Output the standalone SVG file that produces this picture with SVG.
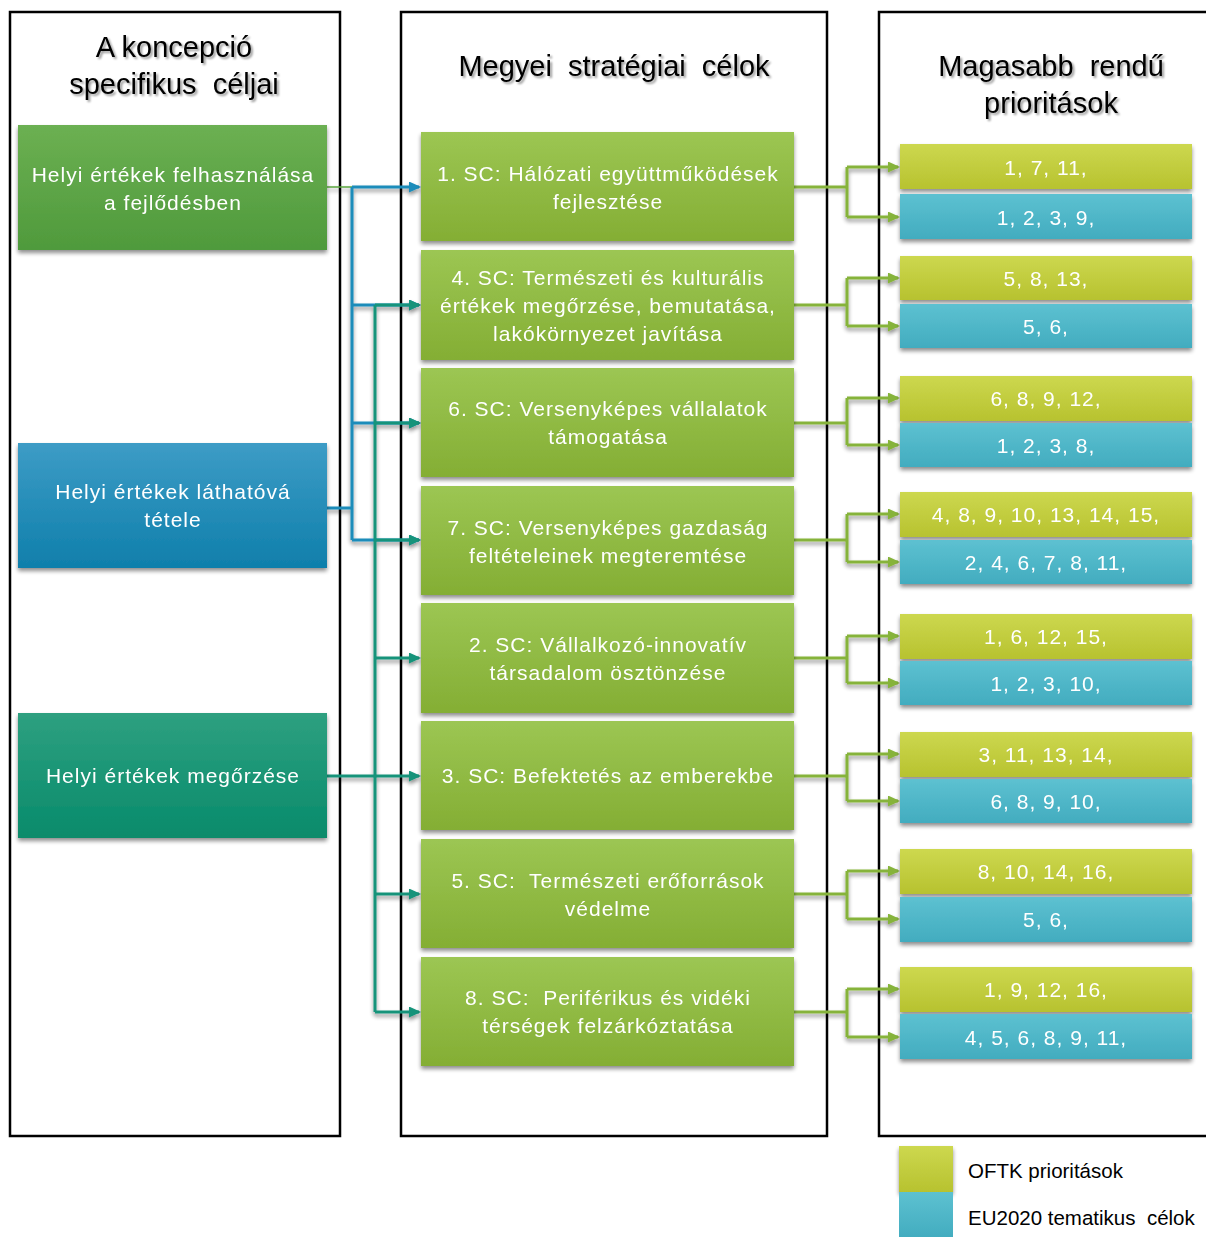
<svg xmlns="http://www.w3.org/2000/svg" width="1206" height="1237" viewBox="0 0 1206 1237">
<defs>
<linearGradient id="gLG" x1="0" y1="0" x2="0" y2="1"><stop offset="0" stop-color="#6cb052"/><stop offset="1" stop-color="#4f9a3c"/></linearGradient>
<linearGradient id="gLB" x1="0" y1="0" x2="0" y2="1"><stop offset="0" stop-color="#3d9cc6"/><stop offset="1" stop-color="#0f7fab"/></linearGradient>
<linearGradient id="gLT" x1="0" y1="0" x2="0" y2="1"><stop offset="0" stop-color="#2ea080"/><stop offset="1" stop-color="#088b6b"/></linearGradient>
<linearGradient id="gM" x1="0" y1="0" x2="0" y2="1"><stop offset="0" stop-color="#9cc653"/><stop offset="1" stop-color="#84ae34"/></linearGradient>
<linearGradient id="gY" x1="0" y1="0" x2="0" y2="1"><stop offset="0" stop-color="#cdd84f"/><stop offset="1" stop-color="#b7c22f"/></linearGradient>
<linearGradient id="gC" x1="0" y1="0" x2="0" y2="1"><stop offset="0" stop-color="#5dc1d1"/><stop offset="1" stop-color="#42acbf"/></linearGradient>
<filter id="sh" x="-10%" y="-10%" width="120%" height="130%"><feGaussianBlur in="SourceAlpha" stdDeviation="2"/><feOffset dx="0" dy="3" result="b"/><feComponentTransfer><feFuncA type="linear" slope="0.45"/></feComponentTransfer><feMerge><feMergeNode/><feMergeNode in="SourceGraphic"/></feMerge></filter>
<filter id="tsh" x="-5%" y="-20%" width="110%" height="150%"><feGaussianBlur in="SourceAlpha" stdDeviation="1"/><feOffset dx="1.5" dy="2"/><feComponentTransfer><feFuncA type="linear" slope="0.4"/></feComponentTransfer><feMerge><feMergeNode/><feMergeNode in="SourceGraphic"/></feMerge></filter>
<marker id="aB" viewBox="0 0 12 11" refX="10" refY="5.5" markerWidth="12" markerHeight="11" markerUnits="userSpaceOnUse" orient="auto"><path d="M0,0 L12,5.5 L0,11 z" fill="#1a8cba"/></marker>
<marker id="aT" viewBox="0 0 12 11" refX="10" refY="5.5" markerWidth="12" markerHeight="11" markerUnits="userSpaceOnUse" orient="auto"><path d="M0,0 L12,5.5 L0,11 z" fill="#13937a"/></marker>
<marker id="aG" viewBox="0 0 12 11" refX="10" refY="5.5" markerWidth="12" markerHeight="11" markerUnits="userSpaceOnUse" orient="auto"><path d="M0,0 L12,5.5 L0,11 z" fill="#86b33a"/></marker>
</defs>
<style>
.frame{fill:none;stroke:#000;stroke-width:2.5}
.title{font-family:"Liberation Sans",Arial,sans-serif;font-size:29px;fill:#000;text-anchor:middle;white-space:pre}
.nt{font-family:"Liberation Sans",Arial,sans-serif;font-size:21px;letter-spacing:1px;fill:#fff;text-anchor:middle;white-space:pre}
.rt{font-family:"Liberation Sans",Arial,sans-serif;font-size:21px;letter-spacing:1px;fill:#fff;text-anchor:middle}
.lg{font-family:"Liberation Sans",Arial,sans-serif;font-size:20.5px;fill:#000;white-space:pre}
.cb{fill:none;stroke:#1a8cba;stroke-width:3}
.ct{fill:none;stroke:#13937a;stroke-width:3}
.cg{fill:none;stroke:#86b33a;stroke-width:3}
</style>
<rect width="1206" height="1237" fill="#fff"/>
<g id="frames">
<rect class="frame" x="10" y="12" width="330" height="1124"/>
<rect class="frame" x="401" y="12" width="426" height="1124"/>
<rect class="frame" x="879" y="12" width="340" height="1124"/>
</g>
<g id="titles" filter="url(#tsh)">
<text class="title" x="174" y="57">A koncepció</text>
<text class="title" x="174" y="94">specifikus  céljai</text>
<text class="title" x="614" y="76">Megyei  stratégiai  célok</text>
<text class="title" x="1051" y="76">Magasabb  rendű</text>
<text class="title" x="1051" y="113">prioritások</text>
</g>
<g id="connectors" filter="url(#sh)">
<line x1="327" y1="187" x2="352" y2="187" stroke="#5aa63c" stroke-width="1.5"/>
<line x1="327" y1="508" x2="352" y2="508" stroke="#1a8cba" stroke-width="3"/>
<path class="cb" d="M352,187 V540"/>
<path class="cb" d="M352,187 H419" marker-end="url(#aB)"/>
<path class="cb" d="M352,305 H419" marker-end="url(#aB)"/>
<path class="cb" d="M352,423 H419" marker-end="url(#aB)"/>
<path class="cb" d="M352,540 H419" marker-end="url(#aB)"/>
<line x1="327" y1="776" x2="375" y2="776" stroke="#13937a" stroke-width="3"/>
<path class="ct" d="M375,305 V1012"/>
<path class="ct" d="M375,305 H419" marker-end="url(#aT)"/>
<path class="ct" d="M375,423 H419" marker-end="url(#aT)"/>
<path class="ct" d="M375,540 H419" marker-end="url(#aT)"/>
<path class="ct" d="M375,658 H419" marker-end="url(#aT)"/>
<path class="ct" d="M375,776 H419" marker-end="url(#aT)"/>
<path class="ct" d="M375,894 H419" marker-end="url(#aT)"/>
<path class="ct" d="M375,1012 H419" marker-end="url(#aT)"/>
<path class="cg" d="M794,187 H847 M847,167 V217"/>
<path class="cg" d="M847,167 H898" marker-end="url(#aG)"/>
<path class="cg" d="M847,217 H898" marker-end="url(#aG)"/>
<path class="cg" d="M794,305 H847 M847,278 V326"/>
<path class="cg" d="M847,278 H898" marker-end="url(#aG)"/>
<path class="cg" d="M847,326 H898" marker-end="url(#aG)"/>
<path class="cg" d="M794,423 H847 M847,398 V445"/>
<path class="cg" d="M847,398 H898" marker-end="url(#aG)"/>
<path class="cg" d="M847,445 H898" marker-end="url(#aG)"/>
<path class="cg" d="M794,540 H847 M847,514 V562"/>
<path class="cg" d="M847,514 H898" marker-end="url(#aG)"/>
<path class="cg" d="M847,562 H898" marker-end="url(#aG)"/>
<path class="cg" d="M794,658 H847 M847,636 V683"/>
<path class="cg" d="M847,636 H898" marker-end="url(#aG)"/>
<path class="cg" d="M847,683 H898" marker-end="url(#aG)"/>
<path class="cg" d="M794,776 H847 M847,754 V801"/>
<path class="cg" d="M847,754 H898" marker-end="url(#aG)"/>
<path class="cg" d="M847,801 H898" marker-end="url(#aG)"/>
<path class="cg" d="M794,894 H847 M847,871 V919"/>
<path class="cg" d="M847,871 H898" marker-end="url(#aG)"/>
<path class="cg" d="M847,919 H898" marker-end="url(#aG)"/>
<path class="cg" d="M794,1012 H847 M847,989 V1037"/>
<path class="cg" d="M847,989 H898" marker-end="url(#aG)"/>
<path class="cg" d="M847,1037 H898" marker-end="url(#aG)"/>
</g>
<g id="left-nodes" filter="url(#sh)">
<g id="L1"><rect x="18" y="125" width="309" height="125" fill="url(#gLG)"/><text class="nt" x="173" y="182">Helyi értékek felhasználása</text><text class="nt" x="173" y="210">a fejlődésben</text></g>
<g id="L2"><rect x="18" y="443" width="309" height="125" fill="url(#gLB)"/><text class="nt" x="173" y="499">Helyi értékek láthatóvá</text><text class="nt" x="173" y="527">tétele</text></g>
<g id="L3"><rect x="18" y="713" width="309" height="125" fill="url(#gLT)"/><text class="nt" x="173" y="783">Helyi értékek megőrzése</text></g>
</g>
<g id="mid-nodes" filter="url(#sh)">
<g id="M1"><rect x="421" y="132" width="373" height="109" fill="url(#gM)"/><text class="nt" x="608" y="181">1. SC: Hálózati együttműködések</text><text class="nt" x="608" y="209">fejlesztése</text></g>
<g id="M4"><rect x="421" y="250" width="373" height="110" fill="url(#gM)"/><text class="nt" x="608" y="285">4. SC: Természeti és kulturális</text><text class="nt" x="608" y="313">értékek megőrzése, bemutatása,</text><text class="nt" x="608" y="341">lakókörnyezet javítása</text></g>
<g id="M6"><rect x="421" y="368" width="373" height="109" fill="url(#gM)"/><text class="nt" x="608" y="416">6. SC: Versenyképes vállalatok</text><text class="nt" x="608" y="444">támogatása</text></g>
<g id="M7"><rect x="421" y="486" width="373" height="109" fill="url(#gM)"/><text class="nt" x="608" y="535">7. SC: Versenyképes gazdaság</text><text class="nt" x="608" y="563">feltételeinek megteremtése</text></g>
<g id="M2"><rect x="421" y="603" width="373" height="110" fill="url(#gM)"/><text class="nt" x="608" y="652">2. SC: Vállalkozó-innovatív</text><text class="nt" x="608" y="680">társadalom ösztönzése</text></g>
<g id="M3"><rect x="421" y="721" width="373" height="109" fill="url(#gM)"/><text class="nt" x="608" y="783">3. SC: Befektetés az emberekbe</text></g>
<g id="M5"><rect x="421" y="839" width="373" height="109" fill="url(#gM)"/><text class="nt" x="608" y="888">5. SC:  Természeti erőforrások</text><text class="nt" x="608" y="916">védelme</text></g>
<g id="M8"><rect x="421" y="957" width="373" height="109" fill="url(#gM)"/><text class="nt" x="608" y="1005">8. SC:  Periférikus és vidéki</text><text class="nt" x="608" y="1033">térségek felzárkóztatása</text></g>
</g>
<g id="right-nodes" filter="url(#sh)">
<g id="R1"><rect x="900" y="144" width="292" height="45" fill="url(#gY)"/><text class="rt" x="1046" y="175">1, 7, 11,</text><rect x="900" y="194" width="292" height="45" fill="url(#gC)"/><text class="rt" x="1046" y="225">1, 2, 3, 9,</text></g>
<g id="R2"><rect x="900" y="256" width="292" height="44" fill="url(#gY)"/><text class="rt" x="1046" y="286">5, 8, 13,</text><rect x="900" y="304" width="292" height="44" fill="url(#gC)"/><text class="rt" x="1046" y="334">5, 6,</text></g>
<g id="R3"><rect x="900" y="376" width="292" height="45" fill="url(#gY)"/><text class="rt" x="1046" y="406">6, 8, 9, 12,</text><rect x="900" y="423" width="292" height="44" fill="url(#gC)"/><text class="rt" x="1046" y="453">1, 2, 3, 8,</text></g>
<g id="R4"><rect x="900" y="492" width="292" height="45" fill="url(#gY)"/><text class="rt" x="1046" y="522">4, 8, 9, 10, 13, 14, 15,</text><rect x="900" y="540" width="292" height="44" fill="url(#gC)"/><text class="rt" x="1046" y="570">2, 4, 6, 7, 8, 11,</text></g>
<g id="R5"><rect x="900" y="614" width="292" height="45" fill="url(#gY)"/><text class="rt" x="1046" y="644">1, 6, 12, 15,</text><rect x="900" y="661" width="292" height="44" fill="url(#gC)"/><text class="rt" x="1046" y="691">1, 2, 3, 10,</text></g>
<g id="R6"><rect x="900" y="732" width="292" height="45" fill="url(#gY)"/><text class="rt" x="1046" y="762">3, 11, 13, 14,</text><rect x="900" y="779" width="292" height="44" fill="url(#gC)"/><text class="rt" x="1046" y="809">6, 8, 9, 10,</text></g>
<g id="R7"><rect x="900" y="849" width="292" height="45" fill="url(#gY)"/><text class="rt" x="1046" y="879">8, 10, 14, 16,</text><rect x="900" y="897" width="292" height="45" fill="url(#gC)"/><text class="rt" x="1046" y="927">5, 6,</text></g>
<g id="R8"><rect x="900" y="967" width="292" height="45" fill="url(#gY)"/><text class="rt" x="1046" y="997">1, 9, 12, 16,</text><rect x="900" y="1014" width="292" height="45" fill="url(#gC)"/><text class="rt" x="1046" y="1045">4, 5, 6, 8, 9, 11,</text></g>
</g>
<g id="legend">
<rect x="899" y="1146" width="54" height="46" fill="url(#gY)" filter="url(#sh)"/>
<rect x="899" y="1192" width="54" height="46" fill="url(#gC)"/>
<text class="lg" x="968" y="1178">OFTK prioritások</text>
<text class="lg" x="968" y="1225">EU2020 tematikus  célok</text>
</g>
</svg>
